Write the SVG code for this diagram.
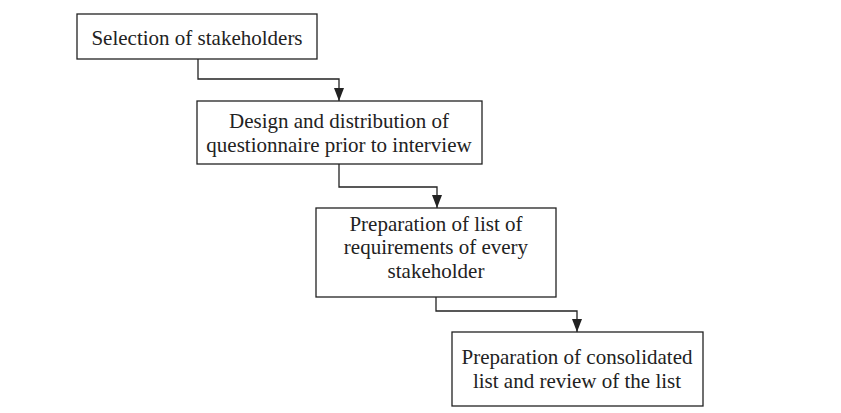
<svg xmlns="http://www.w3.org/2000/svg" width="841" height="413" viewBox="0 0 841 413">
<defs>
<marker id="arr" markerWidth="14" markerHeight="10" refX="13" refY="5" orient="auto" markerUnits="userSpaceOnUse" viewBox="0 0 14 10">
<path d="M0,0 L13,5 L0,10 Z" fill="#222"/>
</marker>
</defs>
<style>
rect{fill:#fff;stroke:#222;stroke-width:1.3}
text{font-family:"Liberation Serif","Times New Roman",serif;font-size:21px;fill:#222;text-anchor:middle}
.c{fill:none;stroke:#222;stroke-width:1.3}
</style>
<rect x="0" y="0" width="841" height="413" style="stroke:none"/>
<g id="connectors">
<path class="c" d="M198,59 V79 H339 V101" marker-end="url(#arr)"/>
<path class="c" d="M339,164 V187 H437 V208" marker-end="url(#arr)"/>
<path class="c" d="M436,297 V311 H577 V332" marker-end="url(#arr)"/>
</g>
<g id="n1"><rect x="77" y="14" width="240" height="45"/><text x="197" y="45">Selection of stakeholders</text></g>
<g id="n2"><rect x="197" y="101" width="285" height="63"/><text x="339" y="128">Design and distribution of</text><text x="339" y="152">questionnaire prior to interview</text></g>
<g id="n3"><rect x="316" y="208" width="240" height="89"/><text x="436" y="231">Preparation of list of</text><text x="436" y="254">requirements of every</text><text x="436" y="278">stakeholder</text></g>
<g id="n4"><rect x="452" y="332" width="251" height="74"/><text x="577" y="364">Preparation of consolidated</text><text x="577" y="388">list and review of the list</text></g>
</svg>
